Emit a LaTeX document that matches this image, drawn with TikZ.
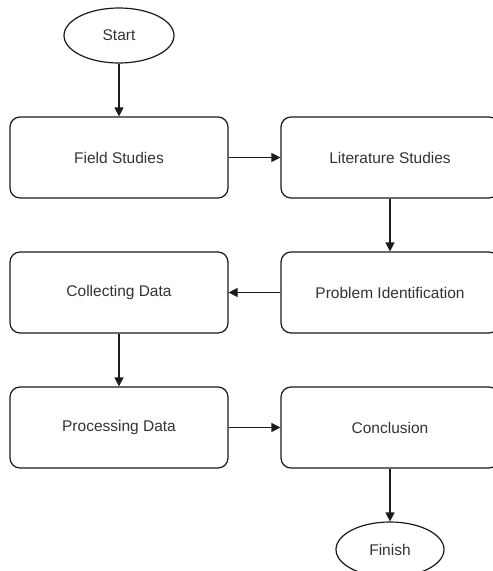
\documentclass[tikz,border=0pt]{standalone}
\usepackage{fontspec}
\setmainfont{Liberation Sans}
\usetikzlibrary{arrows.meta,shapes.geometric}
\definecolor{txt}{HTML}{333333}
\definecolor{ln}{HTML}{1A1A1A}
\begin{document}
\begin{tikzpicture}[x=1pt,y=-1pt,
  box/.style={draw=ln,line width=1.2pt,rounded corners=10pt,minimum width=218pt,minimum height=81pt,inner sep=0pt,text=txt,font=\fontsize{15.5}{18}\selectfont},
  oval/.style={draw=ln,line width=1.2pt,ellipse,minimum width=108pt,minimum height=55pt,inner sep=0pt,text=txt,font=\fontsize{15.5}{18}\selectfont},
  conn/.style={draw=ln,line width=1.2pt,-{Triangle[length=9pt,width=9pt]}}]
\useasboundingbox (0,0) rectangle (493,571);
\clip (0,0) rectangle (493,571);
\node[oval,minimum width=110pt] (start) at (119,35.5) {Start};
\node[box] (field) at (119,157.5) {Field Studies};
\node[box] (lit) at (390,157.5) {Literature Studies};
\node[box] (prob) at (390,292.5) {Problem Identification};
\node[box] (coll) at (119,292.5) {Collecting Data};
\node[box] (proc) at (119,427.5) {Processing Data};
\node[box] (conc) at (390,427.5) {Conclusion};
\node[oval] (finish) at (390,549.5) {Finish};
\draw[conn] (start) -- (field);
\draw[conn] (field) -- (lit);
\draw[conn] (lit) -- (prob);
\draw[conn] (prob) -- (coll);
\draw[conn] (coll) -- (proc);
\draw[conn] (proc) -- (conc);
\draw[conn] (conc) -- (finish);
\end{tikzpicture}
\end{document}
